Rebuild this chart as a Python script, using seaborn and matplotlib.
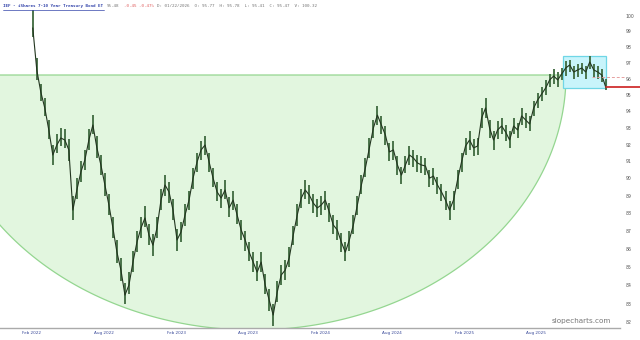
import numpy as np
import pandas as pd
import matplotlib
matplotlib.use("Agg")
import matplotlib.pyplot as plt
from matplotlib.patches import Polygon, Rectangle
from matplotlib.lines import Line2D
import seaborn as sns

# ---- data (dividend-adjusted IEF, log scale) ----
close = [99.21, 96.55, 95.18, 94.20, 92.87, 91.38, 91.97, 92.39, 92.27, 91.68,
         88.18, 89.33, 90.38, 91.08, 92.27, 93.17, 91.80, 90.79, 89.62, 88.47,
         87.16, 85.81, 84.82, 83.46, 84.00, 85.26, 86.37, 87.16, 87.73, 86.76,
         86.20, 87.16, 88.75, 89.62, 89.22, 88.18, 86.49, 86.94, 87.90, 88.75,
         90.02, 90.97, 91.68, 91.97, 90.97, 90.02, 89.22, 88.87, 89.33, 88.30,
         88.75, 87.90, 87.05, 86.49, 85.81, 85.26, 84.71, 85.26, 84.00, 83.19,
         82.39, 83.62, 84.55, 84.82, 85.49, 86.76, 87.90, 88.87, 89.33, 89.04,
         88.58, 88.30, 88.47, 88.75, 88.07, 87.33, 87.05, 86.37, 85.81, 86.49,
         87.33, 88.47, 89.62, 90.61, 91.80, 92.99, 93.77, 93.17, 92.57, 91.56,
         91.68, 90.79, 90.20, 90.79, 91.38, 91.20, 90.91, 90.79, 90.73, 90.02,
         90.14, 89.62, 89.22, 88.75, 88.18, 88.75, 89.91, 90.97, 91.91, 92.27,
         91.80, 91.91, 93.59, 94.20, 92.99, 92.27, 92.87, 93.11, 92.75, 92.27,
         93.11, 92.87, 93.72, 93.47, 93.23, 94.20, 94.69, 95.06, 95.43, 95.93,
         96.17, 95.93, 96.30, 96.67, 96.86, 96.42, 96.55, 96.67, 96.42, 97.05,
         96.55, 96.42, 96.23, 95.47]
high = [100.4, 97.3, 95.7, 94.8, 93.5, 92.0, 92.6, 93.0, 92.9, 92.3,
        89.0, 90.0, 91.0, 91.7, 92.9, 93.8, 92.5, 91.4, 90.3, 89.1,
        87.8, 86.5, 85.5, 84.1, 84.7, 85.9, 87.0, 87.8, 88.4, 87.4,
        86.8, 87.8, 89.4, 90.2, 89.8, 88.8, 87.1, 87.5, 88.5, 89.3,
        90.6, 91.5, 92.2, 92.5, 91.5, 90.6, 89.8, 89.4, 89.9, 88.9,
        89.3, 88.5, 87.6, 87.0, 86.4, 85.8, 85.3, 85.8, 84.6, 83.8,
        83.0, 84.2, 85.1, 85.4, 86.1, 87.3, 88.5, 89.4, 89.9, 89.6,
        89.1, 88.8, 89.0, 89.3, 88.6, 87.9, 87.6, 86.9, 86.4, 87.0,
        87.9, 89.0, 90.2, 91.2, 92.4, 93.5, 94.3, 93.7, 93.1, 92.1,
        92.2, 91.3, 90.7, 91.3, 91.9, 91.7, 91.4, 91.3, 91.2, 90.5,
        90.6, 90.1, 89.7, 89.3, 88.7, 89.3, 90.5, 91.5, 92.4, 92.8,
        92.3, 92.4, 94.2, 94.8, 93.5, 92.8, 93.4, 93.6, 93.2, 92.8,
        93.6, 93.3, 94.2, 93.9, 93.7, 94.6, 95.1, 95.5, 95.9, 96.3,
        96.6, 96.4, 96.7, 97.1, 97.2, 96.8, 96.9, 97.0, 96.8, 97.4,
        96.9, 96.8, 96.6, 96.0]
low = [98.6, 95.9, 94.6, 93.7, 92.3, 90.8, 91.5, 91.9, 91.8, 91.0,
       87.6, 88.8, 89.8, 90.5, 91.7, 92.6, 91.2, 90.2, 89.0, 87.9,
       86.6, 85.2, 84.2, 83.0, 83.5, 84.7, 85.8, 86.6, 87.2, 86.2,
       85.6, 86.6, 88.2, 89.0, 88.6, 87.6, 85.9, 86.4, 87.3, 88.2,
       89.4, 90.4, 91.1, 91.4, 90.4, 89.5, 88.7, 88.3, 88.8, 87.8,
       88.2, 87.4, 86.5, 85.9, 85.3, 84.7, 84.2, 84.7, 83.5, 82.6,
       81.8, 83.1, 84.0, 84.3, 85.0, 86.2, 87.3, 88.3, 88.8, 88.5,
       88.0, 87.8, 87.9, 88.2, 87.5, 86.8, 86.5, 85.8, 85.3, 85.9,
       86.8, 87.9, 89.1, 90.1, 91.2, 92.4, 93.2, 92.6, 92.0, 91.0,
       91.1, 90.2, 89.7, 90.3, 90.8, 90.7, 90.4, 90.3, 90.2, 89.5,
       89.6, 89.1, 88.7, 88.2, 87.6, 88.2, 89.4, 90.4, 91.4, 91.7,
       91.3, 91.4, 93.0, 93.6, 92.4, 91.7, 92.3, 92.6, 92.2, 91.8,
       92.6, 92.4, 93.2, 93.0, 92.8, 93.7, 94.2, 94.6, 95.0, 95.5,
       95.7, 95.5, 95.9, 96.2, 96.4, 96.0, 96.1, 96.3, 96.0, 96.6,
       96.1, 96.0, 95.8, 95.3]
dates = pd.date_range("2022-02-03", "2026-01-24", periods=len(close))

yticks = list(range(82, 101))
xtick_dates = ["2022-02-01", "2022-08-01", "2023-02-01", "2023-08-01",
               "2024-02-01", "2024-08-01", "2025-02-01", "2025-08-01"]
xtick_labels = ["Feb 2022", "Aug 2022", "Feb 2023", "Aug 2023",
                "Feb 2024", "Aug 2024", "Feb 2025", "Aug 2025"]
last_price = 95.47
prev_close = 96.10
box_top, box_bottom = 97.42, 95.43
box_start, box_end = "2025-10-07", "2026-01-24"

title_name = "IEF - iShares 7-10 Year Treasury Bond ET"
title_vals = "95.48"
title_chg = "-0.45 -0.47%"
title_rest = "D: 01/22/2026  O: 95.77  H: 95.78  L: 95.41  C: 95.47  V: 100.32"

# ---- figure ----
sns.set_theme(style="white")
plt.rcParams["font.family"] = ["DejaVu Sans"]
fig = plt.figure(figsize=(6.4, 3.4), dpi=100)
ax = fig.add_axes([0.0, 12 / 340, 620 / 640, 328 / 340])

ax.set_yscale("log")
ax.set_ylim(81.70, 101.02)
ax.set_xlim(pd.Timestamp("2021-11-12"), pd.Timestamp("2026-03-01"))

# half-ellipse annotation (axes coords)
cx, cy, rx, ry = 253 / 620, 1 - 75 / 328, 313 / 620, 255 / 328
t = np.linspace(np.pi, 2 * np.pi, 200)
pts = np.column_stack([cx + rx * np.cos(t), cy + ry * np.sin(t)])
ax.add_patch(Polygon(pts, closed=True, transform=ax.transAxes,
                     facecolor="#e2f6df", edgecolor="#94d690", lw=0.9, zorder=1))

# consolidation box
ax.add_patch(Rectangle((pd.Timestamp(box_start), box_bottom),
                       pd.Timestamp(box_end) - pd.Timestamp(box_start),
                       box_top - box_bottom, facecolor="#c8f4fb",
                       edgecolor="#6fd6e6", lw=0.9, zorder=1))

# price bars + close line
ax.vlines(dates, low, high, color="#3f6a3f", lw=1.3, zorder=3)
sns.lineplot(x=dates, y=close, ax=ax, color="#22351f", lw=0.8, zorder=4)

# price lines
ax.plot([pd.Timestamp(box_end), pd.Timestamp("2026-06-01")], [last_price, last_price],
        color="#d03030", lw=1.3, clip_on=False, zorder=5)
ax.plot([pd.Timestamp("2025-12-20"), pd.Timestamp("2026-03-10")], [prev_close, prev_close],
        color="#e6a0a0", lw=0.7, ls=(0, (3, 2)), clip_on=False, zorder=5)

# axes styling
for s in ["left", "top", "right"]:
    ax.spines[s].set_visible(False)
ax.spines["bottom"].set_color("#aaaaaa")
ax.spines["bottom"].set_linewidth(1.0)
ax.yaxis.tick_right()
ax.set_yticks(yticks)
ax.set_yticklabels([str(v) for v in yticks])
ax.yaxis.set_minor_locator(matplotlib.ticker.NullLocator())
ax.tick_params(axis="y", length=0, pad=4, labelsize=3.3, labelcolor="#555555")
ax.set_xticks([pd.Timestamp(d) for d in xtick_dates])
ax.set_xticklabels(xtick_labels)
ax.tick_params(axis="x", length=0, pad=2.5, labelsize=3.0, labelcolor="#3a4a9a")
ax.set_xlabel("")
ax.set_ylabel("")
ax.grid(False)

# title line
fs = 3.1
fig.text(3 / 640, 1 - 4 / 340, title_name, fontsize=fs, color="#3344aa",
         family="DejaVu Sans Mono", va="top", ha="left", fontweight="bold")
fig.add_artist(Line2D([3 / 640, 104 / 640], [1 - 9.5 / 340, 1 - 9.5 / 340],
                      transform=fig.transFigure, color="#3344aa", lw=0.5))
fig.text(107 / 640, 1 - 4 / 340, title_vals, fontsize=fs, color="#777777",
         family="DejaVu Sans Mono", va="top", ha="left")
fig.text(124 / 640, 1 - 4 / 340, title_chg, fontsize=fs, color="#e06060",
         family="DejaVu Sans Mono", va="top", ha="left")
fig.text(157 / 640, 1 - 4 / 340, title_rest, fontsize=fs, color="#777777",
         family="DejaVu Sans Mono", va="top", ha="left")

ax.text(0.985, 0.012, "slopecharts.com", transform=ax.transAxes, fontsize=5.2,
        color="#777777", ha="right", va="bottom")

fig.savefig("out.png", dpi=100)
